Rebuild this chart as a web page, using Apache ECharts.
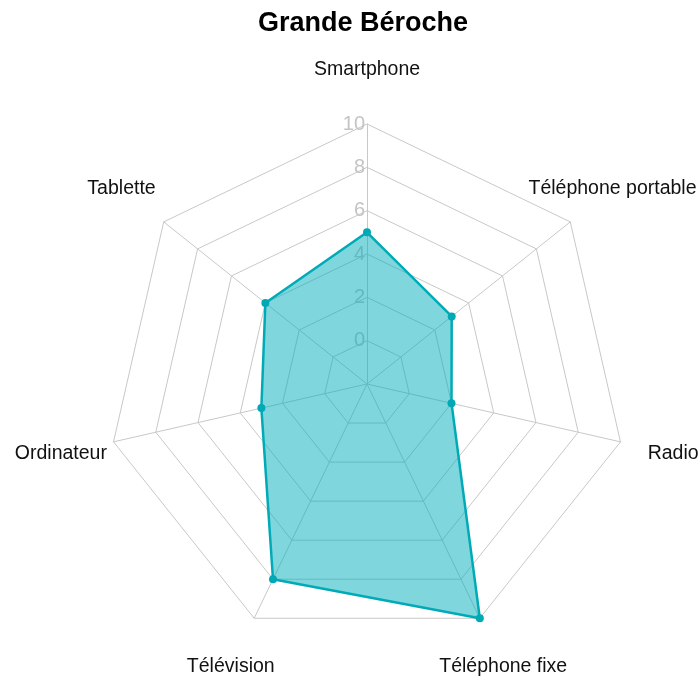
<!DOCTYPE html>
<html>
<head>
<meta charset="utf-8">
<script src="https://cdn.jsdelivr.net/npm/echarts@6/dist/echarts.min.js"></script>
<style>
  html, body { margin: 0; padding: 0; background: #fff; }
  #chart { width: 699px; height: 680px; }
</style>
</head>
<body>
<div id="chart"></div>
<script>
// indicators, counter-clockwise starting at the top (ECharts radar order)
const categories = ['Smartphone', 'Tablette', 'Ordinateur', 'Télévision', 'Téléphone fixe', 'Radio', 'Téléphone portable']
const values = [5, 4, 3, 8, 10, 2, 3]
const scaleMin = -2
const scaleMax = 10

const chart = echarts.init(document.getElementById('chart'))

const indicator = categories.map((name, i) => {
  const item = { name: name, min: scaleMin, max: scaleMax }
  // only the top axis carries the 0..10 labels
  if (i === 0) item.axisLabel = { show: true }
  return item
})

const option = {
  animation: false,
  title: {
    text: 'Grande Béroche',
    left: 358,
    textAlign: 'center',
    top: 5,
    textStyle: {
      fontFamily: 'Liberation Sans',
      fontSize: 27,
      fontWeight: 'bold',
      color: '#000'
    }
  },
  radar: {
    center: [367, 384],
    radius: 260,
    startAngle: 90,
    splitNumber: 6,
    shape: 'polygon',
    indicator: indicator,
    nameGap: 54,
    axisName: {
      color: '#111',
      fontFamily: 'Liberation Sans',
      fontSize: 19.5,
      align: 'center',
      verticalAlign: 'middle'
    },
    axisLine: { lineStyle: { color: '#c8c8c8', width: 1 } },
    splitLine: { lineStyle: { color: '#c8c8c8', width: 1 } },
    splitArea: { show: false },
    axisTick: { show: false },
    axisLabel: {
      show: false,
      margin: 2,
      color: '#c4c4c4',
      fontFamily: 'Liberation Sans',
      fontSize: 20,
      formatter: v => (v < 0 ? '' : v)
    }
  },
  series: [
    {
      type: 'radar',
      symbol: 'circle',
      symbolSize: 8,
      lineStyle: { color: '#00A9B5', width: 2.5 },
      itemStyle: { color: '#00A9B5' },
      areaStyle: { color: '#00AFBB', opacity: 0.5 },
      data: [{ value: values, name: 'Grande Béroche' }]
    }
  ]
}

option && chart.setOption(option)
</script>
</body>
</html>
